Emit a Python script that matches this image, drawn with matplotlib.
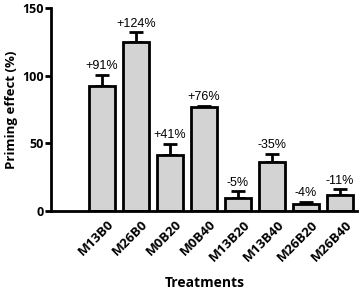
import matplotlib
matplotlib.use('Agg')
import matplotlib.pyplot as plt

# Datos
tratamientos = ['M13B0', 'M26B0', 'M0B20', 'M0B40', 'M13B20', 'M13B40', 'M26B20', 'M26B40']
efecto = [92.5, 125, 41.5, 77, 9.5, 36, 5.5, 12]
error = [8, 7, 8, 0.8, 5, 6, 1.3, 4]
etiquetas = ['+91%', '+124%', '+41%', '+76%', '-5%', '-35%', '-4%', '-11%']

plt.rcParams['font.family'] = ['Open Sans', 'DejaVu Sans']

fig = plt.figure(figsize=(3.62, 2.93), dpi=100)
ax = fig.add_axes([51 / 362, 82 / 293, 306 / 362, 203 / 293])

x = list(range(len(tratamientos)))
ax.bar(x, efecto, width=0.77, color='#d3d3d3', edgecolor='black', linewidth=2, zorder=2)
ax.errorbar(x, efecto, yerr=[[0] * len(error), error], fmt='none', ecolor='black',
            elinewidth=2, capsize=5, capthick=2, zorder=1)

for xi, v, e, t in zip(x, efecto, error, etiquetas):
    ax.text(xi, v + e + 2, t, ha='center', va='bottom', fontsize=9,
            family=['Liberation Sans', 'DejaVu Sans'])

ax.set_xlim(-1.5, 7.5)
ax.set_ylim(0, 150)
ax.set_yticks([0, 50, 100, 150])
ax.set_xticks([xi + 0.15 for xi in x])
ax.set_xticklabels(tratamientos, rotation=45, ha='right', rotation_mode='anchor',
                   fontsize=9.5, fontweight='bold')
for lab in ax.get_yticklabels():
    lab.set_fontweight('bold')
    lab.set_fontsize(9)

ax.spines['top'].set_visible(False)
ax.spines['right'].set_visible(False)
ax.spines['left'].set_linewidth(2)
ax.spines['bottom'].set_linewidth(2)
ax.tick_params(axis='y', width=2, length=4, pad=1)
ax.tick_params(axis='x', length=0, pad=5)

ax.set_ylabel('Priming effect (%)', fontsize=9.5, fontweight='bold', labelpad=3)
fig.text(205 / 362, 1 - 283 / 293, 'Treatments', ha='center', va='center',
         fontsize=10, fontweight='bold')

fig.savefig('out.png', dpi=100)
